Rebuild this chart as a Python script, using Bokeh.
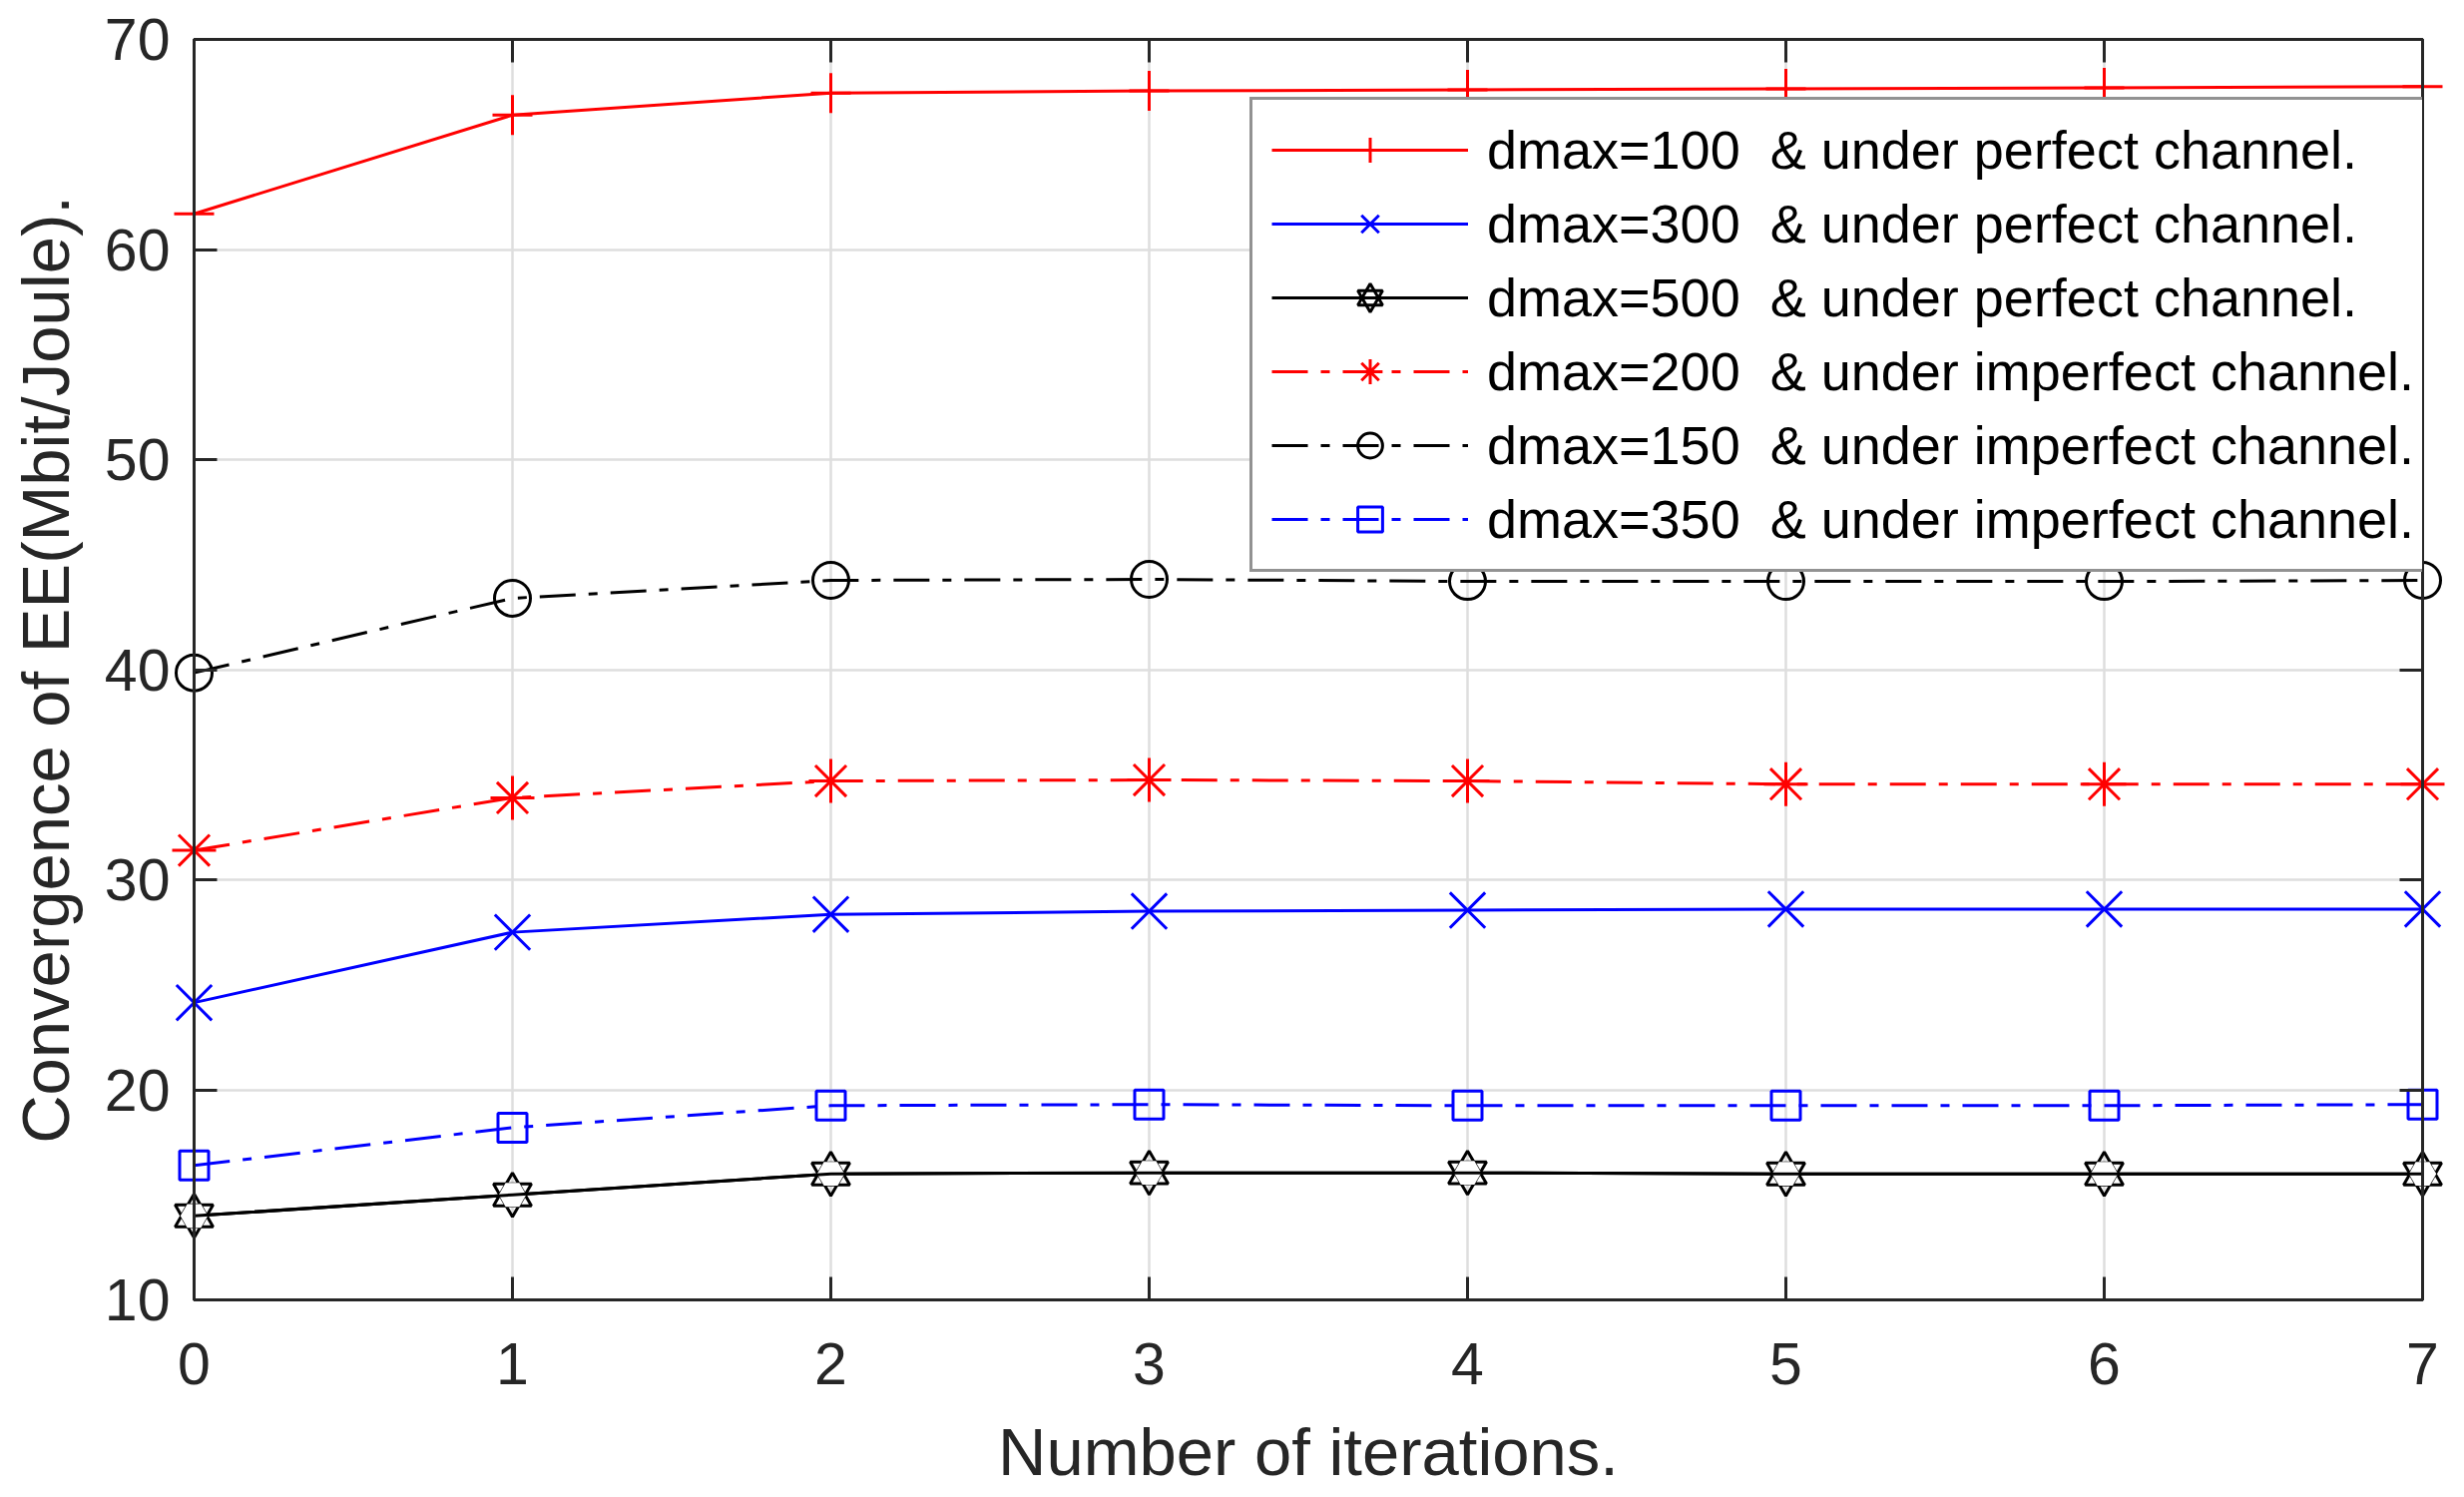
from bokeh.plotting import figure
from bokeh.models import Range1d, LinearAxis, FixedTicker, Legend, LegendItem, CustomJSTickFormatter
from bokeh.embed import file_html
from bokeh.resources import INLINE

# ---------------- data ----------------
iterations = [0, 1, 2, 3, 4, 5, 6, 7]
ee_d100_perfect = [61.7, 66.4, 67.45, 67.55, 67.6, 67.65, 67.7, 67.75]
ee_d300_perfect = [24.15, 27.5, 28.35, 28.5, 28.55, 28.6, 28.6, 28.6]
ee_d500_perfect = [14.0, 15.0, 16.0, 16.05, 16.05, 16.0, 16.0, 16.0]
ee_d200_imperfect = [31.4, 33.9, 34.7, 34.75, 34.7, 34.55, 34.55, 34.55]
ee_d150_imperfect = [39.85, 43.4, 44.25, 44.3, 44.2, 44.2, 44.2, 44.25]
ee_d350_imperfect = [16.4, 18.2, 19.25, 19.3, 19.25, 19.25, 19.25, 19.3]

series_labels = [
    "dmax=100  & under perfect channel.",
    "dmax=300  & under perfect channel.",
    "dmax=500  & under perfect channel.",
    "dmax=200  & under imperfect channel.",
    "dmax=150  & under imperfect channel.",
    "dmax=350  & under imperfect channel.",
]
x_ticks = [0, 1, 2, 3, 4, 5, 6, 7]
y_ticks = [10, 20, 30, 40, 50, 60, 70]
x_label = "Number of iterations."
y_label = "Convergence of EE(Mbit/Joule)."

# ---------------- style ----------------
FONT = "Liberation Sans"
AX = "#262626"
RED, BLUE, BLACK = "#ff0000", "#0000ff", "#000000"
DASHDOT = "36 13 9 13"
LW = 3

p = figure(
    frame_width=2233, frame_height=1263,
    x_range=Range1d(0, 7), y_range=Range1d(10, 70),
    output_backend="svg", toolbar_location=None,
    min_border_left=194, min_border_right=26,
    min_border_top=39, min_border_bottom=170,
    background_fill_color="white", border_fill_color="white",
)
p.outline_line_color = AX
p.outline_line_width = LW


def style_axis(ax, ticks, show_labels):
    ax.ticker = FixedTicker(ticks=ticks)
    ax.axis_line_color = AX
    ax.axis_line_width = LW
    ax.major_tick_line_color = AX
    ax.major_tick_line_width = LW
    ax.major_tick_in = 23
    ax.major_tick_out = 0
    ax.minor_tick_line_color = None
    ax.major_label_text_font = FONT
    ax.major_label_text_font_size = "59px"
    ax.major_label_text_color = AX
    if not show_labels:
        ax.formatter = CustomJSTickFormatter(code="return ''")
        ax.major_label_standoff = 0


xa = p.xaxis[0]
ya = p.yaxis[0]
style_axis(xa, x_ticks, True)
style_axis(ya, y_ticks, True)
xa.major_label_standoff = 43
ya.major_label_standoff = 24
for ax, lab, so in ((xa, x_label, 27), (ya, y_label, 19)):
    ax.axis_label = lab
    ax.axis_label_text_font = FONT
    ax.axis_label_text_font_size = "67px"
    ax.axis_label_text_font_style = "normal"
    ax.axis_label_text_color = AX
    ax.axis_label_standoff = so

top_ax = LinearAxis()
right_ax = LinearAxis()
style_axis(top_ax, x_ticks, False)
style_axis(right_ax, y_ticks, False)
p.add_layout(top_ax, "above")
p.add_layout(right_ax, "right")

p.xgrid.ticker = FixedTicker(ticks=x_ticks)
p.ygrid.ticker = FixedTicker(ticks=y_ticks)
for g in (p.xgrid, p.ygrid):
    g.grid_line_color = "#dedede"
    g.grid_line_width = 2.5

items = []


def add_series(vals, label, color, dash, marker, size):
    ln = p.line(iterations, vals, line_color=color, line_width=LW, line_dash=dash)
    mk = p.scatter(iterations, vals, marker=marker, size=size, line_color=color,
                   fill_color=None, line_width=LW, level="guide")
    items.append(LegendItem(label=label, renderers=[ln, mk]))


add_series(ee_d100_perfect, series_labels[0], RED, "solid", "cross", 40)
add_series(ee_d300_perfect, series_labels[1], BLUE, "solid", "x", 50)

# hexagram marker (six-pointed star) built from two triangles
ln = p.line(iterations, ee_d500_perfect, line_color=BLACK, line_width=LW)
t1 = p.scatter(iterations, ee_d500_perfect, marker="triangle", size=38, line_color=BLACK,
               fill_color=None, line_width=LW, level="guide")
t2 = p.scatter(iterations, ee_d500_perfect, marker="inverted_triangle", size=38, line_color=BLACK,
               fill_color=None, line_width=LW, level="guide")
hx = p.scatter(iterations, ee_d500_perfect, marker="hex", size=27.5, line_color=None,
               fill_color="white", level="guide")
ln2 = p.line(iterations, ee_d500_perfect, line_color=BLACK, line_width=LW, level="guide")
items.append(LegendItem(label=series_labels[2], renderers=[ln, t1, t2]))

add_series(ee_d200_imperfect, series_labels[3], RED, DASHDOT, "asterisk", 44)
add_series(ee_d150_imperfect, series_labels[4], BLACK, DASHDOT, "circle", 36)
add_series(ee_d350_imperfect, series_labels[5], BLUE, DASHDOT, "square", 29)

legend = Legend(
    items=items, location=(1058, 729),
    padding=19, spacing=12, margin=0,
    glyph_width=197, glyph_height=62, label_height=62, label_width=932,
    label_standoff=19,
    label_text_font=FONT, label_text_font_size="54px", label_text_color="black",
    border_line_color=AX, border_line_width=LW,
    background_fill_color="white", background_fill_alpha=1.0,
)
p.add_layout(legend)

open("out.html", "w").write(file_html(p, INLINE))
